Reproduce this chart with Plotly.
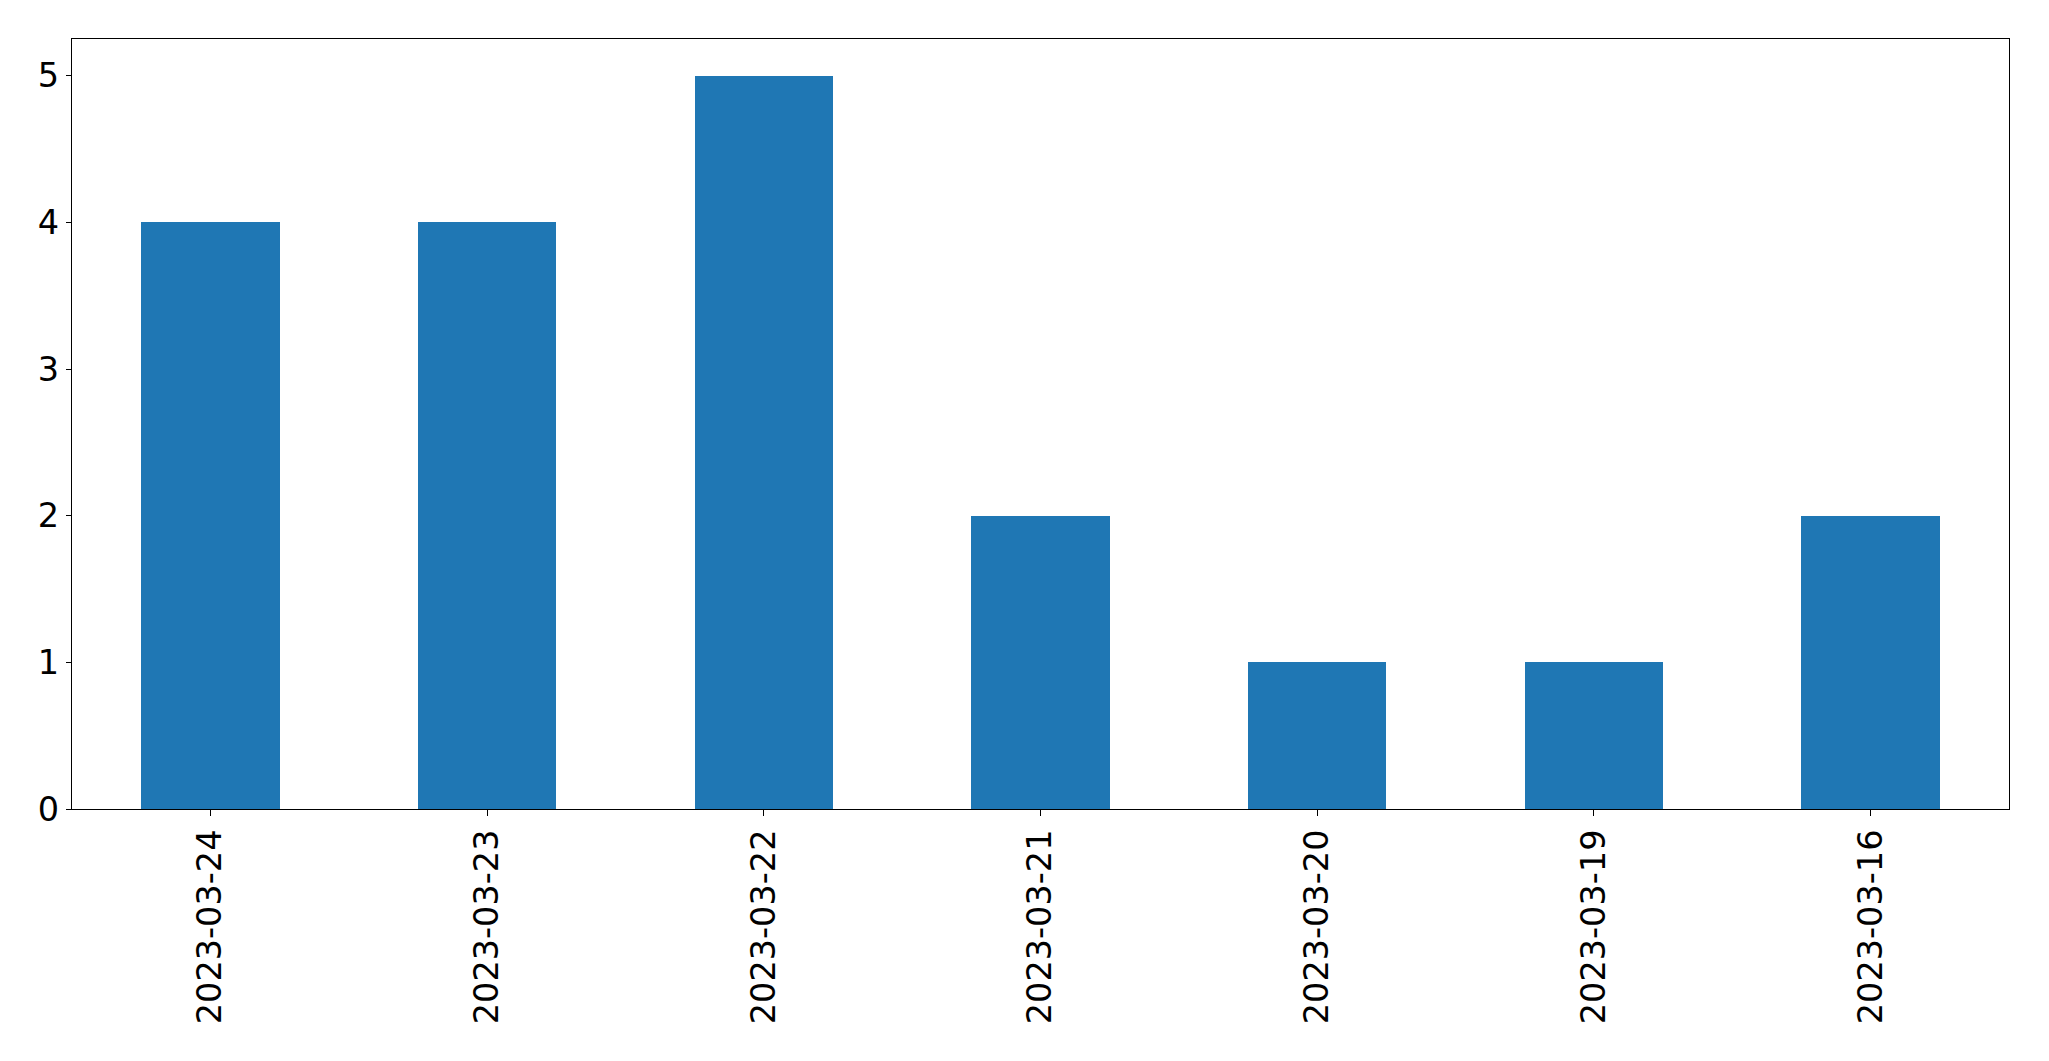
import plotly.graph_objects as go

dates = ["2023-03-24", "2023-03-23", "2023-03-22", "2023-03-21", "2023-03-20", "2023-03-19", "2023-03-16"]
counts = [4, 4, 5, 2, 1, 1, 2]
y_ticks = [0, 1, 2, 3, 4, 5]

FS = 33.5

fig = go.Figure(go.Bar(x=dates, y=counts, marker=dict(color="#1f77b4", line=dict(width=0)), width=0.5))

fig.update_layout(
    width=2049, height=1061,
    margin=dict(l=64, r=48, t=31, b=260),
    plot_bgcolor="white", paper_bgcolor="white",
    font=dict(family="DejaVu Sans", size=FS, color="black"),
    showlegend=False,
    bargap=0,
)
fig.update_xaxes(
    type="category", range=[-0.5, 6.5],
    showline=True, linecolor="black", linewidth=1.3, mirror=True,
    ticks="outside", ticklen=6, tickwidth=1.3, tickcolor="black",
    tickangle=-90, showgrid=False, zeroline=False,
    tickfont=dict(family="DejaVu Sans", size=FS, color="black"),
)
fig.update_yaxes(
    range=[0, 5.25], tickvals=y_ticks,
    showline=True, linecolor="black", linewidth=1.3, mirror=True,
    ticks="outside", ticklen=5, tickwidth=1.3, tickcolor="black",
    showgrid=False, zeroline=False,
    tickfont=dict(family="DejaVu Sans", size=FS, color="black"),
)

fig.write_html("out.html")
